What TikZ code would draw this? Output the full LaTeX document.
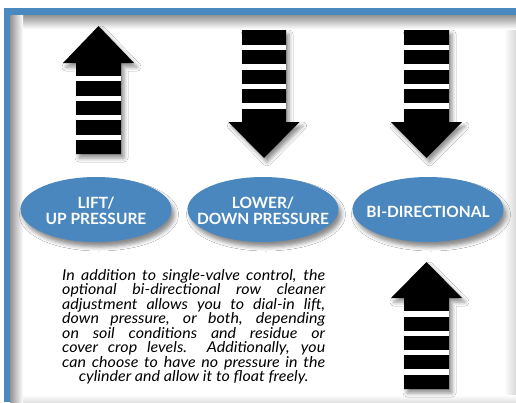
\documentclass[tikz,border=0pt]{standalone}
\usepackage{fontspec}
\setmainfont{Lato}
\newfontfamily\parafont[FakeStretch=1.07]{Lato}
\usetikzlibrary{shadows.blur,shapes.geometric}
\definecolor{frameblue}{HTML}{4A89C0}
\definecolor{ellblue}{HTML}{4A87BE}
\newcommand{\jstline}[1]{\hbox to 263pt{\spaceskip=0.26em plus 1fill\relax #1}}
\newcommand{\ctrline}[1]{\hbox to 263pt{\hss #1\hss}}
\begin{document}
\begin{tikzpicture}[x=1pt,y=-1pt,
  arrowshape/.style={fill=black, blur shadow={shadow xshift=3pt, shadow yshift=-4pt, shadow blur radius=4pt, shadow opacity=45}},
  stripe/.style={fill=white},
  ellshape/.style={ellipse, fill=ellblue, minimum width=151pt, minimum height=65pt, inner sep=0pt,
     blur shadow={shadow xshift=3pt, shadow yshift=-5pt, shadow blur radius=4pt, shadow opacity=45}},
  ellabel/.style={text=white, font=\fontsize{15.5}{15.5}\selectfont\bfseries, align=center, inner sep=0pt},
  paratext/.style={font=\parafont\fontsize{15}{14.5}\selectfont\itshape, inner sep=0pt}
]
\useasboundingbox (0,0) rectangle (516,402);
\fill[white] (0,0) rectangle (516,402);
% faint shadows right and bottom
\shade[left color=white, right color=gray!30] (504,15) rectangle (516,402);
\shade[top color=white, bottom color=gray!22] (10,395) rectangle (516,402);
% inner shadows top and left
\shade[top color=gray!85, bottom color=white] (10,15) rectangle (516,29);
\shade[left color=gray!85, right color=white] (10,15) rectangle (23,402);
% blue frame
\fill[frameblue] (4,8) rectangle (516,15);
\fill[frameblue] (4,8) rectangle (10,402);

% arrow 1 (up)
\path[arrowshape] (76,154) -- (76,63) -- (63,63) -- (98.5,26) -- (134,63) -- (121,63) -- (121,154) -- cycle;
\foreach \y in {76,95.5,115,134.5} \fill[stripe] (76,\y) rectangle (121,\y+5);
% arrow 2 (down)
\path[arrowshape] (242,30) -- (286,30) -- (286,122) -- (299.5,122) -- (264,158) -- (228.5,122) -- (242,122) -- cycle;
\foreach \y in {44.5,64,83.5,103} \fill[stripe] (242,\y) rectangle (286,\y+5.5);
% arrow 3 (down)
\path[arrowshape] (404,30) -- (449,30) -- (449,122) -- (462,122) -- (426.5,158) -- (391,122) -- (404,122) -- cycle;
\foreach \y in {44.5,64,83.5,103} \fill[stripe] (404,\y) rectangle (449,\y+5.5);
% arrow 4 (up)
\path[arrowshape] (404,389) -- (404,298) -- (391,298) -- (426.5,262) -- (462,298) -- (449,298) -- (449,389) -- cycle;
\foreach \y in {311,330.5,349.5,369} \fill[stripe] (404,\y) rectangle (449,\y+5.5);

% ellipses
\node[ellshape] (e1) at (96,209.5) {};
\node[ellshape] (e2) at (263,209.5) {};
\node[ellshape] (e3) at (428,209.5) {};
\node[ellabel] (l1) at ([yshift=-1.5pt]e1.center) {LIFT/\\UP PRESSURE};
\node[ellabel] (l2) at ([yshift=-1.5pt]e2.center) {LOWER/\\DOWN PRESSURE};
\node[ellabel] (l3) at ([yshift=-2pt]e3.center) {BI-DIRECTIONAL};

% paragraph
\node[paratext, anchor=north west] (para) at (62,269) {\vbox{\baselineskip=14.5pt
\jstline{In addition to single-valve control, the}
\jstline{optional bi-directional row cleaner}
\jstline{adjustment allows you to dial-in lift,}
\jstline{down pressure, or both, depending}
\jstline{on soil conditions and residue or}
\jstline{cover crop levels.\hskip 0.52em plus 2fill Additionally, you}
\jstline{can choose to have no pressure in the}
\ctrline{cylinder and allow it to float freely.}}};
\end{tikzpicture}
\end{document}
